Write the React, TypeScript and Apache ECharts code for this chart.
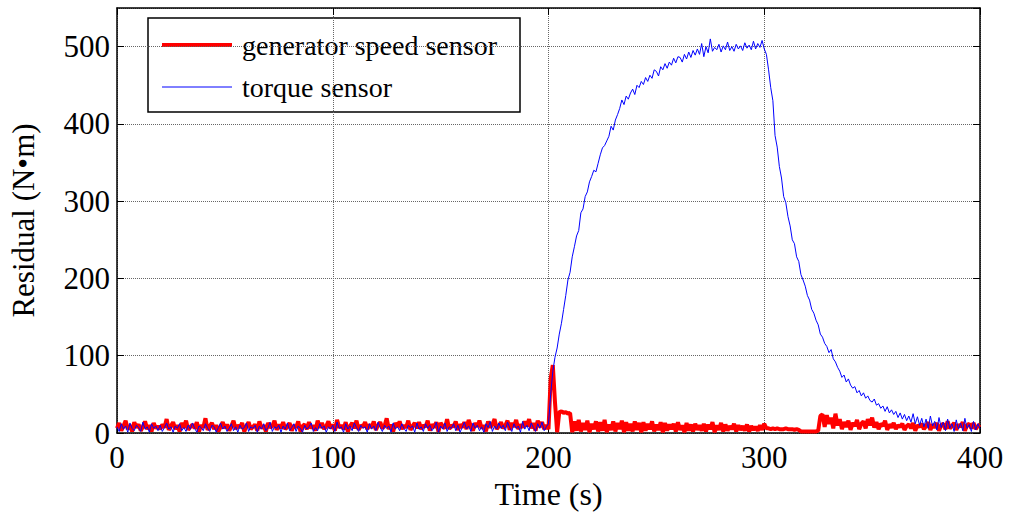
import React, { useEffect, useRef } from "react";
import * as echarts from "echarts";

// Time ticks / axis
const xTicks = [0, 100, 200, 300, 400];
const yTicks = [0, 100, 200, 300, 400, 500];

// torque sensor residual (1 s steps)
const blueNoiseStart = 0;
const blueNoise = [
  8, 2, 12, 5, 9, 1, 13, 6, 3, 10, 7, 2, 14, 5, 8, 1, 12, 6, 9, 3,
  10, 2, 7, 13, 5, 8, 1, 9, 6, 12, 3, 7, 2, 10, 5, 13, 6, 1, 9, 7,
  3, 12, 6, 2, 10, 8, 1, 7, 13, 5, 9, 2, 6, 12, 3, 8, 1, 10, 5, 7,
  13, 2, 8, 6, 10, 1, 9, 5, 12, 3, 7, 14, 2, 8, 6, 10, 1, 9, 5, 13,
  3, 7, 12, 2, 9, 6, 1, 10, 5, 8, 13, 2, 7, 3, 12, 6, 9, 1, 8, 5,
  10, 2, 14, 6, 8, 1, 12, 5, 9, 3, 13, 7, 2, 10, 6, 8, 1, 12, 5, 9,
  3, 14, 7, 2, 10, 6, 9, 1, 13, 5, 8, 3, 12, 6, 2, 10, 7, 9, 1, 13,
  5, 8, 2, 12, 6, 10, 3, 7, 14, 1, 9, 5, 13, 2, 8, 6, 12, 3, 10, 1,
  7, 14, 5, 9, 2, 13, 6, 10, 3, 8, 1, 12, 7, 15, 2, 9, 5, 13, 6, 10,
  3, 14, 7, 2, 12, 6, 9, 1, 15, 5, 10, 3, 13, 7, 2, 12, 6, 14, 3, 8,
];
const blueRiseStart = 200;
const blueRise = [
  12, 50, 80, 98, 110, 128, 142, 160, 178, 198,
  208, 228, 241, 255, 262, 285, 290, 306, 312, 325,
  332, 340, 338, 349, 360, 369, 372, 378, 384, 397,
  392, 405, 412, 420, 431, 425, 436, 432, 440, 445,
  438, 450, 447, 455, 451, 460, 455, 463, 459, 470,
  468, 462, 474, 470, 478, 472, 480, 476, 485, 479,
  487, 486, 480, 490, 484, 493, 486, 495, 489, 497,
  490, 504, 487, 500, 492, 510, 494, 499, 496, 503,
  493, 501, 496, 506, 495, 500, 494, 503, 497, 501,
  495, 505, 498, 502, 496, 507, 497, 504, 499, 508,
  497,
];
const blueDecayStart = 301;
const blueDecay = [
  490, 470, 447, 430, 385, 370, 345, 330, 306, 298,
  280, 268, 250, 245, 228, 222, 205, 198, 190, 178,
  172, 160, 155, 146, 140, 128, 124, 116, 112, 104,
  108, 96, 92, 85, 80, 72, 75, 66, 70, 62,
  58, 60, 52, 55, 48, 52, 45, 48, 42, 40,
  44, 36, 38, 32, 35, 28, 34, 26, 30, 24,
  28, 20, 26, 18, 24, 16, 22, 14, 25, 12,
  21, 10, 19, 8, 18, 6, 22, 9, 15, 4,
  20, 7, 14, 3, 18, 6, 12, 2, 17, 5,
  13, 3, 19, 6, 11, 2, 15, 4, 12, 6,
];

// generator speed sensor residual (1 s steps)
const redNoiseStart = 0;
const redNoise = [
  6, 13, 3, 9, 16, 5, 10, 2, 14, 7, 11, 3, 8, 15, 5, 10, 2, 13, 6, 9,
  5, 11, 7, 18, 4, 9, 14, 5, 10, 2, 13, 7, 16, 4, 8, 11, 6, 14, 2, 10,
  7, 19, 4, 9, 13, 5, 10, 2, 8, 14, 6, 11, 3, 9, 16, 5, 10, 7, 13, 2,
  9, 14, 5, 8, 11, 3, 15, 6, 10, 2, 13, 7, 9, 16, 4, 11, 6, 14, 5, 8,
  13, 3, 10, 7, 15, 2, 9, 11, 5, 14, 6, 10, 3, 16, 7, 13, 5, 9, 15, 6,
  11, 3, 17, 7, 10, 5, 14, 2, 9, 13, 6, 16, 4, 10, 8, 14, 5, 11, 7, 15,
  4, 10, 14, 6, 9, 19, 5, 11, 2, 13, 8, 15, 5, 10, 7, 16, 4, 9, 13, 6,
  14, 5, 10, 8, 16, 3, 11, 7, 14, 2, 13, 9, 6, 18, 5, 10, 8, 15, 4, 11,
  7, 14, 5, 17, 9, 3, 13, 8, 16, 6, 10, 2, 15, 7, 11, 18, 5, 9, 14, 6,
  10, 16, 4, 13, 8, 17, 5, 11, 7, 15, 9, 18, 6, 13, 3, 16, 8, 14, 5, 10,
];
const redSpikeStart = 200;
const redSpike = [5, 70, 88, 40, 1, 27, 28, 26, 27, 25, 26];
const redMidStart = 211;
const redMid = [
  1, 15, 3, 17, 2, 13, 4, 16, 1, 12, 5, 15, 2, 14, 3, 17, 1, 11, 4, 15, 2, 13, 5, 16, 1, 14, 3, 12, 2, 15,
  4, 13, 1, 14, 3, 12, 5, 15, 2, 11, 4, 14, 1, 13, 3, 11, 5, 12, 2, 14, 4, 10, 1, 13, 3, 11, 2, 12, 4, 10,
  3, 12, 2, 11, 5, 14, 1, 10, 4, 13, 2, 11, 3, 9, 5, 12, 2, 10, 4, 9, 3, 11, 2, 9, 4, 8, 3, 10, 4, 12,
];
const redFlatStart = 301;
const redFlat = [6, 6, 5, 6, 5, 6, 5, 5, 5, 6, 5, 5, 5, 4, 5, 4, 2, 2, 2, 2, 2, 2, 2, 2, 3];
const redPostStart = 326;
const redPost = [
  22, 24, 8, 23, 12, 20, 6, 25, 10, 18, 5, 14, 8, 16, 4,
  13, 9, 17, 5, 12, 15, 6, 18, 10, 20, 7, 14, 5, 12, 9,
  16, 4, 11, 7, 13, 5, 10, 8, 12, 4, 9, 11, 6, 13, 3,
  10, 8, 12, 5, 9, 14, 4, 11, 7, 13, 3, 10, 12, 5, 15,
  6, 9, 13, 4, 11, 8, 14, 3, 10, 12, 6, 13, 5, 9, 11,
];

const seg = (start: number, arr: number[]) => arr.map((v, i) => [start + i, v]);

const blueData = [
  ...seg(blueNoiseStart, blueNoise),
  ...seg(blueRiseStart, blueRise),
  ...seg(blueDecayStart, blueDecay),
];
const redData = [
  ...seg(redNoiseStart, redNoise),
  ...seg(redSpikeStart, redSpike),
  ...seg(redMidStart, redMid),
  ...seg(redFlatStart, redFlat),
  ...seg(redPostStart, redPost),
];

const FONT = '"Liberation Serif", "Times New Roman", serif';

export default function App() {
  const ref = useRef<HTMLDivElement>(null);
  useEffect(() => {
    if (!ref.current) return;
    const chart = echarts.init(ref.current, undefined, { renderer: "svg" });
    const axisLine = { show: true, onZero: false, lineStyle: { color: "#000", width: 1.5 } };
    const tick = { show: true, inside: true, length: 7, lineStyle: { color: "#000", width: 1 } };
    const split = { show: true, lineStyle: { color: "#666", type: "dotted" as const, width: 1 } };
    chart.setOption({
      animation: false,
      backgroundColor: "#fff",
      grid: { left: 116, right: 32, top: 8, bottom: 82, containLabel: false },
      xAxis: [
        {
          type: "value",
          min: xTicks[0],
          max: xTicks[xTicks.length - 1],
          interval: 100,
          position: "bottom",
          name: "Time (s)",
          nameLocation: "middle",
          nameGap: 33,
          nameTextStyle: { fontFamily: FONT, fontSize: 32, color: "#000" },
          axisLine,
          axisTick: tick,
          axisLabel: { fontFamily: FONT, fontSize: 31, color: "#000", margin: 9 },
          splitLine: split,
        },
        {
          type: "value",
          min: xTicks[0],
          max: xTicks[xTicks.length - 1],
          interval: 100,
          position: "top",
          axisLine,
          axisTick: tick,
          axisLabel: { show: false },
          splitLine: { show: false },
        },
      ],
      yAxis: [
        {
          type: "value",
          min: yTicks[0],
          max: 550,
          interval: 100,
          position: "left",
          name: "Residual (N•m)",
          nameLocation: "middle",
          nameGap: 78,
          nameTextStyle: { fontFamily: FONT, fontSize: 31, color: "#000" },
          axisLine,
          axisTick: tick,
          axisLabel: { fontFamily: FONT, fontSize: 31, color: "#000", margin: 7, showMaxLabel: false },
          splitLine: split,
        },
        {
          type: "value",
          min: yTicks[0],
          max: 550,
          interval: 100,
          position: "right",
          axisLine,
          axisTick: tick,
          axisLabel: { show: false },
          splitLine: { show: false },
        },
      ],
      series: [
        {
          name: "generator speed sensor",
          type: "line",
          data: redData,
          showSymbol: false,
          symbol: "none",
          lineStyle: { color: "#ff0000", width: 4 },
          itemStyle: { color: "#ff0000" },
          z: 2,
        },
        {
          name: "torque sensor",
          type: "line",
          data: blueData,
          showSymbol: false,
          symbol: "none",
          lineStyle: { color: "#0000ff", width: 1 },
          itemStyle: { color: "#0000ff" },
          z: 3,
        },
      ],
      graphic: [
        {
          type: "group",
          z: 100,
          children: [
            {
              type: "rect",
              shape: { x: 148, y: 18, width: 372, height: 94 },
              style: { fill: "#fff", stroke: "#000", lineWidth: 1.5 },
            },
            {
              type: "line",
              shape: { x1: 162, y1: 45, x2: 232, y2: 45 },
              style: { stroke: "#ff0000", lineWidth: 4 },
            },
            {
              type: "line",
              shape: { x1: 162, y1: 87, x2: 232, y2: 87 },
              style: { stroke: "#0000ff", lineWidth: 1 },
            },
            {
              type: "text",
              x: 242,
              y: 45,
              style: {
                text: "generator speed sensor",
                fontFamily: FONT,
                fontSize: 28,
                fill: "#000",
                verticalAlign: "middle",
                align: "left",
              },
            },
            {
              type: "text",
              x: 242,
              y: 87,
              style: {
                text: "torque sensor",
                fontFamily: FONT,
                fontSize: 28,
                fill: "#000",
                verticalAlign: "middle",
                align: "left",
              },
            },
          ],
        },
      ],
    });
    return () => chart.dispose();
  }, []);
  return (
    <div
      ref={ref}
      style={{ position: "fixed", left: 0, top: 0, width: 1012, height: 515 }}
    />
  );
}
